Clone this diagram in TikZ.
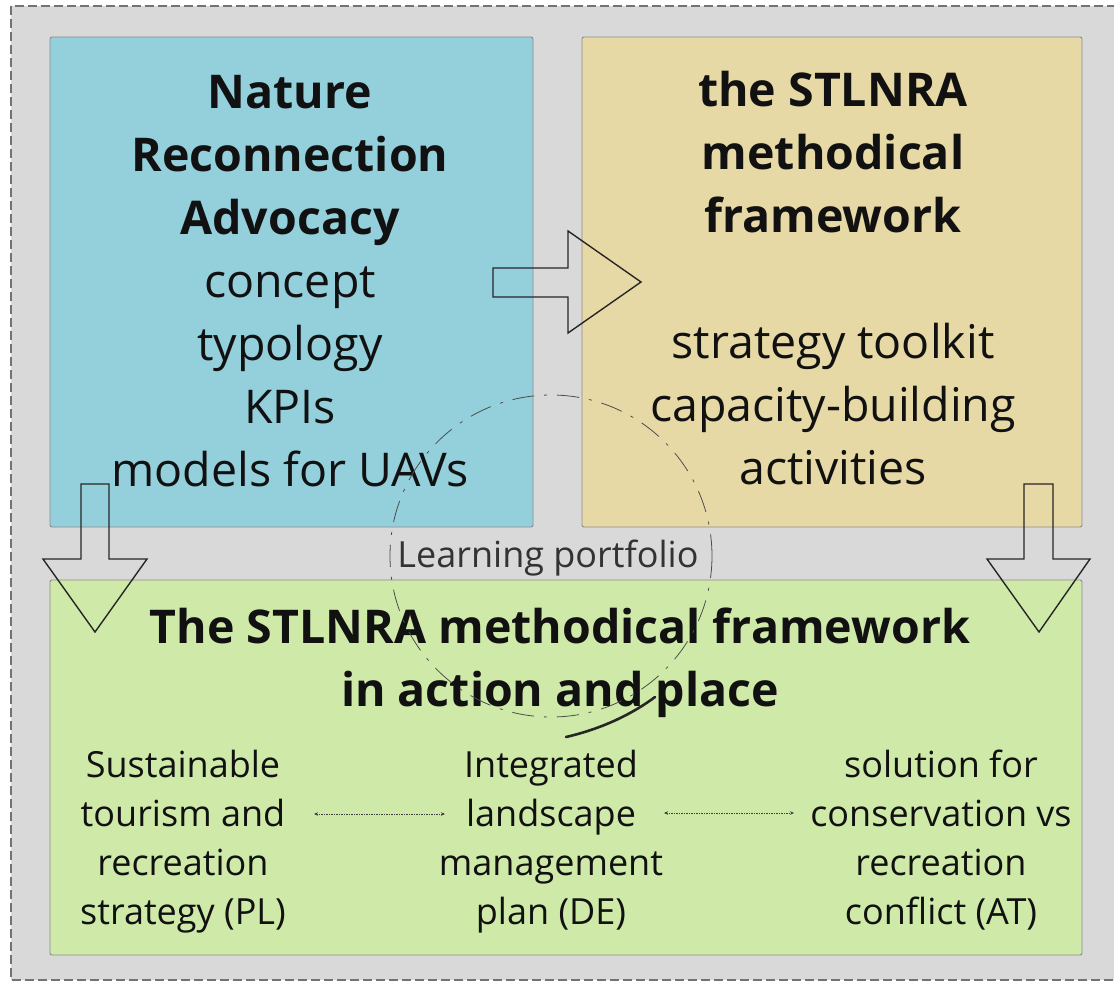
\documentclass[tikz,border=0pt]{standalone}
\usepackage{fontspec}
\setmainfont{Open Sans}
\usetikzlibrary{arrows.meta}
\definecolor{bggray}{HTML}{D9D9D9}
\definecolor{boxblue}{HTML}{94CFDC}
\definecolor{boxtan}{HTML}{E7D9A6}
\definecolor{boxgreen}{HTML}{CFEAA8}
\definecolor{edgegray}{HTML}{8C8C8C}
\definecolor{txt}{HTML}{111111}
\begin{document}
\begin{tikzpicture}[x=1pt,y=-1pt,
  panel/.style={draw=edgegray, line width=0.9pt, rounded corners=2pt},
  bigtext/.style={anchor=base, align=center, text=txt, inner sep=0pt, font=\fontsize{46.5}{63}\selectfont},
  coltext/.style={anchor=base, align=center, text=txt, inner sep=0pt, font=\fontsize{36}{49}\selectfont},
  blockarrow/.style={draw=black!85, line width=1.4pt, line join=miter},
  linkarrow/.style={draw=black!75, line width=1pt, dash pattern=on 1.5pt off 1pt, {Stealth[length=4pt,width=3.5pt]}-{Stealth[length=4pt,width=3.5pt]}}
]
\useasboundingbox (0,0) rectangle (1114,982);
\fill[white] (0,0) rectangle (1114,982);
\draw[fill=bggray, draw=black!55, line width=1.2pt, dash pattern=on 9pt off 4pt] (11,6) rectangle (1130,980);

% panels
\draw[panel, fill=boxblue] (50,37) rectangle (533,527);
\draw[panel, fill=boxtan] (582,37) rectangle (1082,527);
\draw[panel, fill=boxgreen] (50,580) rectangle (1082,955);

% panel texts (base anchor = baseline of the last line)
\node[bigtext] (bluetext) at (290,486) {\textbf{Nature}\\\textbf{Reconnection}\\\textbf{Advocacy}\\concept\\typology\\KPIs\\models for UAVs};
\node[bigtext] (tantext) at (833,484) {\textbf{the STLNRA}\\\textbf{methodical}\\\textbf{framework}\\[63pt]strategy toolkit\\capacity-building\\activities};
\node[bigtext] (greentitle) at (560,706) {\textbf{The STLNRA methodical framework}\\\textbf{in action and place}};

\node[coltext] (colPL) at (183,924) {Sustainable\\tourism and\\recreation\\strategy (PL)};
\node[coltext] (colDE) at (551,924) {Integrated\\landscape\\management\\plan (DE)};
\node[coltext] (colAT) at (941,924) {solution for\\conservation vs\\recreation\\conflict (AT)};

% learning portfolio cycle
\draw[black!70, line width=0.8pt, dash pattern=on 22pt off 10pt on 3pt off 10pt] (551,556) circle[radius=161];
\draw[black!85, line width=2.6pt, line cap=round] (566,737) .. controls (605,728) and (635,712) .. (655,697);
\node[anchor=base, text=black!80, inner sep=0pt, font=\fontsize{36}{44}\selectfont] (lp) at (548,567) {Learning portfolio};

% block arrows
\draw[blockarrow] (493,268) -- (568,268) -- (568,231) -- (641,282) -- (568,333) -- (568,297) -- (493,297) -- cycle;
\draw[blockarrow] (81,484) -- (109,484) -- (109,559) -- (147,559) -- (95,632) -- (43,559) -- (81,559) -- cycle;
\draw[blockarrow] (1024,484) -- (1053,484) -- (1053,559) -- (1090,559) -- (1039,632) -- (987,559) -- (1024,559) -- cycle;

% dotted links
\coordinate (l1) at (314,814);
\coordinate (l2) at (445,814);
\coordinate (r1) at (664,813);
\coordinate (r2) at (794,813);
\draw[linkarrow] (l1) -- (l2);
\draw[linkarrow] (r1) -- (r2);
\end{tikzpicture}
\end{document}
